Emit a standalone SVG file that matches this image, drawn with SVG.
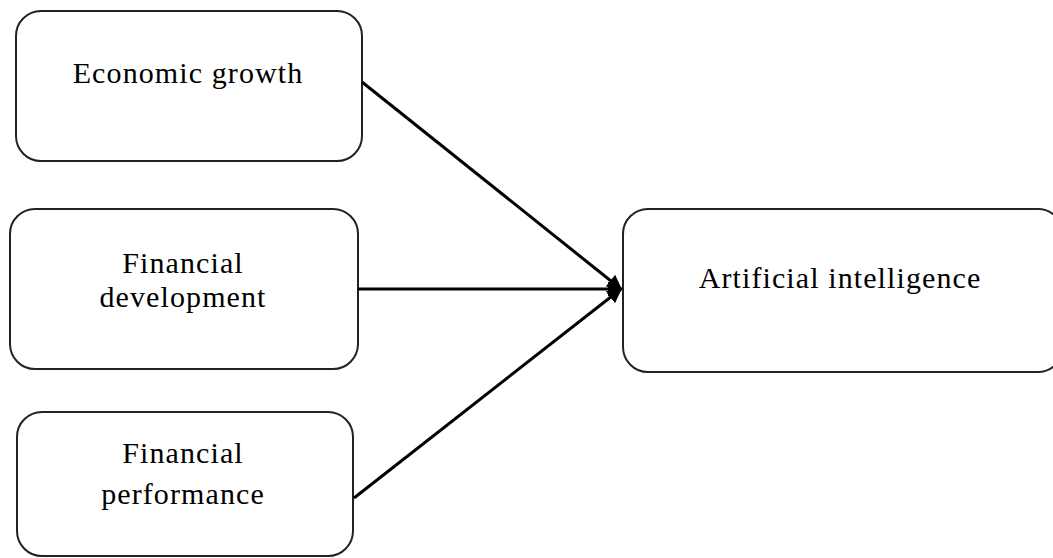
<svg xmlns="http://www.w3.org/2000/svg" width="1053" height="558" viewBox="0 0 1053 558">
<style>
.box{fill:#fff;stroke:#222;stroke-width:2}
.lbl{font-family:"Liberation Serif","Times New Roman",serif;font-size:30px;letter-spacing:1.1px;fill:#000;text-anchor:middle}
.conn{stroke:#000;stroke-width:3;fill:none}
</style>
<defs>
<marker id="ah" viewBox="0 0 10 10" refX="9" refY="5" markerWidth="5" markerHeight="5" orient="auto" markerUnits="strokeWidth">
<path d="M0,0 L10,5 L0,10 z" fill="#000"/>
</marker>
</defs>
<rect width="1053" height="558" fill="#fff"/>
<g id="node-economic-growth">
<rect class="box" x="16" y="11" width="346" height="150" rx="25"/>
<text class="lbl" x="188" y="83">Economic growth</text>
</g>
<g id="node-financial-development">
<rect class="box" x="10" y="209" width="348" height="160" rx="25"/>
<text class="lbl" x="183" y="273">Financial</text>
<text class="lbl" x="183" y="307">development</text>
</g>
<g id="node-financial-performance">
<rect class="box" x="17" y="412" width="336" height="144" rx="25"/>
<text class="lbl" x="183" y="463">Financial</text>
<text class="lbl" x="183" y="504">performance</text>
</g>
<g id="node-artificial-intelligence">
<rect class="box" x="623" y="209" width="440" height="163" rx="25"/>
<text class="lbl" x="840" y="288">Artificial intelligence</text>
</g>
<g id="connectors">
<line class="conn" x1="362" y1="82" x2="621" y2="289" marker-end="url(#ah)"/>
<line class="conn" x1="358" y1="289" x2="621" y2="289" marker-end="url(#ah)"/>
<line class="conn" x1="354" y1="498" x2="621" y2="289" marker-end="url(#ah)"/>
</g>
</svg>
